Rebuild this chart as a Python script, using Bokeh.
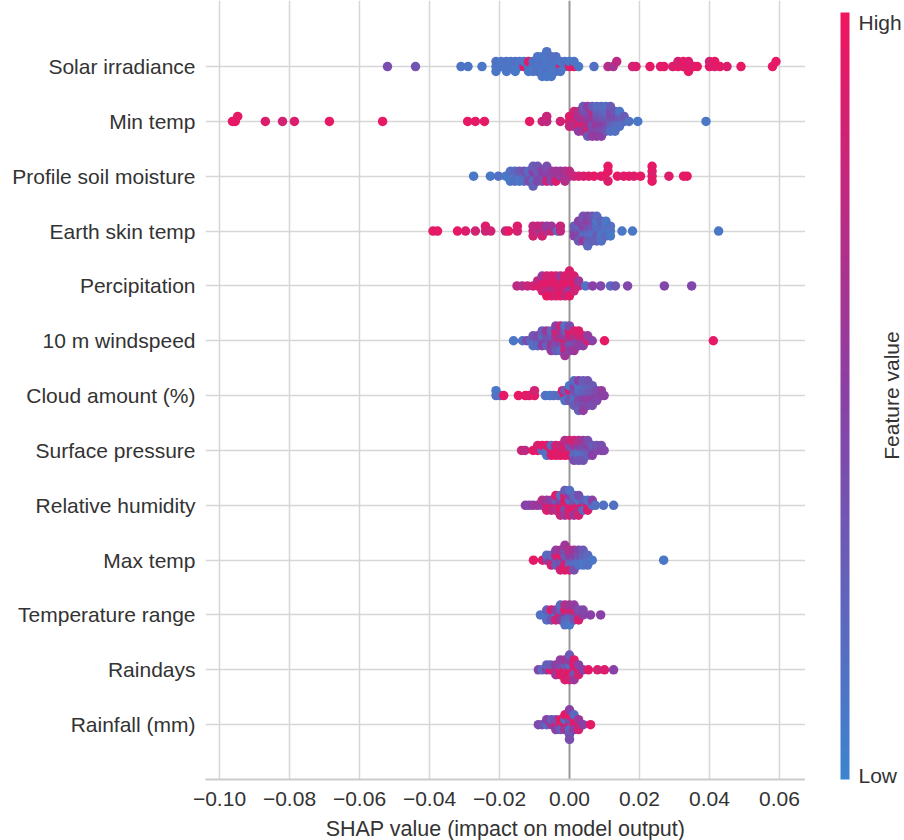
import math
from bokeh.plotting import figure
from bokeh.layouts import row
from bokeh.models import LinearColorMapper, ColorBar, FixedTicker, Span, ColumnDataSource, Range1d
from bokeh.core.properties import value
from bokeh.embed import file_html
from bokeh.resources import INLINE

# ---------------- data (SHAP value, normalised feature value) ----------------
features = ["Solar irradiance", "Min temp", "Profile soil moisture", "Earth skin temp",
            "Percipitation", "10 m windspeed", "Cloud amount (%)", "Surface pressure",
            "Relative humidity", "Max temp", "Temperature range", "Raindays", "Rainfall (mm)"]

x_ticks = [-0.10, -0.08, -0.06, -0.04, -0.02, 0.00, 0.02, 0.04, 0.06]
x_tick_labels = ["\u22120.10", "\u22120.08", "\u22120.06", "\u22120.04", "\u22120.02",
                 "0.00", "0.02", "0.04", "0.06"]

solar_irradiance = [
    (-0.052, .40), (-0.044, .35), (-0.031, .12), (-0.029, .12), (-0.025, .10),
    (-0.021, .10), (-0.021, .15), (-0.021, .10), (-0.0195, .12), (-0.0195, .10),
    (-0.018, .10), (-0.018, .15), (-0.018, .10), (-0.0168, .12), (-0.0168, .10),
    (-0.0155, .10), (-0.0155, .15), (-0.0155, .10), (-0.0143, .10), (-0.0143, .12),
    (-0.013, .95), (-0.013, .10), (-0.0117, .12), (-0.0117, .90), (-0.0117, .10),
    (-0.0104, .10), (-0.0104, .15), (-0.0104, .10),
    (-0.0091, .10), (-0.0091, .12), (-0.0091, .15), (-0.0091, .10),
    (-0.0078, .10), (-0.0078, .15), (-0.0078, .10), (-0.0078, .12), (-0.0078, .10),
    (-0.0065, .12), (-0.0065, .10), (-0.0065, .15), (-0.0065, .10), (-0.0065, .10), (-0.0065, .12),
    (-0.0052, .10), (-0.0052, .12), (-0.0052, .10), (-0.0052, .15), (-0.0052, .10),
    (-0.0039, .10), (-0.0039, .12), (-0.0039, .10), (-0.0039, .15),
    (-0.0026, .95), (-0.0026, .10), (-0.0026, .12),
    (-0.0013, .10), (-0.0013, .15), (0.0, .90), (0.0, .10), (0.0013, .95), (0.0013, .12), (0.0026, .10),
    (0.007, .15), (0.011, .70), (0.0125, .65), (0.0135, .75), (0.018, .85), (0.019, .90), (0.023, .95),
    (0.026, .90), (0.027, .95), (0.0295, .90), (0.031, .95), (0.031, .85), (0.0325, .90), (0.0325, .95),
    (0.034, .95), (0.034, .90), (0.034, .95), (0.0355, .90), (0.0365, .95), (0.040, .95), (0.040, .85),
    (0.0415, .90), (0.0415, .95), (0.043, .95), (0.045, .90), (0.049, .95), (0.058, .95), (0.059, .95),
]

min_temp = [
    (-0.0963, .95), (-0.0955, .95), (-0.0948, .95), (-0.0869, .90), (-0.082, .85), (-0.0786, .90),
    (-0.0686, .95), (-0.0534, .95), (-0.0291, .95), (-0.0269, .95), (-0.0243, .95), (-0.0114, .95),
    (-0.0078, .80), (-0.0065, .75), (-0.0065, .80), (-0.0026, .85),
    (0.0, .85), (0.0, .90), (0.0, .80),
    (0.0013, .80), (0.0013, .90), (0.0013, .70), (0.0013, .85),
    (0.0026, .80), (0.0026, .60), (0.0026, .90), (0.0026, .70), (0.0026, .50),
    (0.0039, .60), (0.0039, .70), (0.0039, .85), (0.0039, .40), (0.0039, .65), (0.0039, .30),
    (0.0052, .60), (0.0052, .50), (0.0052, .70), (0.0052, .40), (0.0052, .80), (0.0052, .55), (0.0052, .30),
    (0.0065, .50), (0.0065, .60), (0.0065, .40), (0.0065, .70), (0.0065, .45), (0.0065, .30), (0.0065, .55),
    (0.0078, .50), (0.0078, .40), (0.0078, .60), (0.0078, .30), (0.0078, .45), (0.0078, .20), (0.0078, .55),
    (0.0091, .45), (0.0091, .35), (0.0091, .50), (0.0091, .25), (0.0091, .40), (0.0091, .20), (0.0091, .50),
    (0.0104, .40), (0.0104, .30), (0.0104, .45), (0.0104, .20), (0.0104, .35), (0.0104, .15),
    (0.0117, .35), (0.0117, .40), (0.0117, .25), (0.0117, .45), (0.0117, .15), (0.0117, .30),
    (0.013, .30), (0.013, .40), (0.013, .20), (0.013, .35), (0.013, .15),
    (0.0143, .25), (0.0143, .30), (0.0143, .15), (0.0143, .10),
    (0.0156, .20), (0.0156, .30), (0.017, .15), (0.0195, .10), (0.039, .10),
]

profile_soil_moisture = [
    (-0.0274, .10), (-0.0226, .10), (-0.0203, .15), (-0.0182, .10),
    (-0.0169, .10), (-0.0169, .15), (-0.0169, .10),
    (-0.0156, .10), (-0.0156, .20), (-0.0156, .15),
    (-0.0143, .15), (-0.0143, .30), (-0.0143, .10),
    (-0.013, .20), (-0.013, .35), (-0.013, .15),
    (-0.0117, .30), (-0.0117, .20), (-0.0117, .40),
    (-0.0104, .35), (-0.0104, .50), (-0.0104, .20), (-0.0104, .30), (-0.0104, .25),
    (-0.0091, .40), (-0.0091, .30), (-0.0091, .45), (-0.0091, .35),
    (-0.0078, .45), (-0.0078, .50), (-0.0078, .40),
    (-0.0065, .50), (-0.0065, .45), (-0.0065, .85), (-0.0065, .40),
    (-0.0052, .50), (-0.0052, .55), (-0.0052, .45),
    (-0.0039, .55), (-0.0039, .60), (-0.0039, .90),
    (-0.0026, .55), (-0.0026, .60),
    (-0.0013, .60), (-0.0013, .65), (-0.0013, .70),
    (0.0, .65), (0.0, .75), (0.0013, .80), (0.0026, .85),
    (0.004, .90), (0.0055, .90), (0.007, .95), (0.009, .90), (0.010, .95),
    (0.011, .95), (0.011, .90), (0.011, .95), (0.0137, .95), (0.0155, .90), (0.017, .95),
    (0.0184, .90), (0.0203, .95),
    (0.0236, .95), (0.0236, .90), (0.0236, .95), (0.0236, .95), (0.0284, .90), (0.0326, .95), (0.0336, .95),
]

earth_skin_temp = [
    (-0.039, .95), (-0.0377, .95), (-0.032, .95), (-0.0297, .90), (-0.0269, .85),
    (-0.024, .80), (-0.024, .90), (-0.0225, .85), (-0.0183, .75), (-0.0174, .95),
    (-0.0149, .85), (-0.0149, .90),
    (-0.0104, .80), (-0.0104, .75), (-0.0104, .85),
    (-0.0091, .70), (-0.0091, .80),
    (-0.0078, .60), (-0.0078, .75), (-0.0078, .85),
    (-0.0065, .70), (-0.0065, .55),
    (-0.0052, .80), (-0.0052, .60),
    (-0.0034, .15), (-0.0026, .75), (-0.0026, .80),
    (0.0013, .40), (0.0013, .30), (0.0013, .50),
    (0.0026, .35), (0.0026, .25), (0.0026, .45), (0.0026, .50), (0.0026, .30),
    (0.0039, .30), (0.0039, .50), (0.0039, .20), (0.0039, .40), (0.0039, .60), (0.0039, .35),
    (0.0052, .25), (0.0052, .40), (0.0052, .20), (0.0052, .55), (0.0052, .30), (0.0052, .45), (0.0052, .20),
    (0.0065, .20), (0.0065, .30), (0.0065, .15), (0.0065, .40), (0.0065, .25), (0.0065, .35),
    (0.0078, .20), (0.0078, .15), (0.0078, .30), (0.0078, .10), (0.0078, .25), (0.0078, .20),
    (0.0091, .15), (0.0091, .20), (0.0091, .10), (0.0091, .25), (0.0091, .15),
    (0.0104, .10), (0.0104, .15), (0.0104, .20), (0.0104, .10),
    (0.0117, .10), (0.0117, .15), (0.0117, .10),
    (0.015, .10), (0.018, .10), (0.0426, .10),
]

percipitation = [
    (-0.015, .75), (-0.0135, .70), (-0.012, .80), (-0.0104, .85),
    (-0.0091, .90), (-0.0091, .75),
    (-0.0078, .95), (-0.0078, .90), (-0.0078, .85), (-0.0078, .60),
    (-0.0065, .90), (-0.0065, .95), (-0.0065, .80), (-0.0065, .85), (-0.0065, .95),
    (-0.0052, .95), (-0.0052, .90), (-0.0052, .70), (-0.0052, .85), (-0.0052, .95),
    (-0.0039, .90), (-0.0039, .95), (-0.0039, .80), (-0.0039, .90), (-0.0039, .85),
    (-0.0026, .95), (-0.0026, .85), (-0.0026, .90), (-0.0026, .60), (-0.0026, .95),
    (-0.0013, .90), (-0.0013, .95), (-0.0013, .85), (-0.0013, .90), (-0.0013, .80),
    (0.0, .95), (0.0, .90), (0.0, .50), (0.0, .85), (0.0, .95), (0.0, .90),
    (0.0013, .90), (0.0013, .95), (0.0013, .85), (0.0013, .90),
    (0.0026, .80), (0.0026, .60),
    (0.0046, .15), (0.0066, .50), (0.0089, .45), (0.0117, .20), (0.0131, .35),
    (0.0166, .45), (0.0271, .45), (0.0349, .45),
]

windspeed_10m = [
    (-0.016, .10), (-0.0134, .15), (-0.0122, .40), (-0.011, .20),
    (-0.0104, .35), (-0.0104, .15),
    (-0.0091, .30), (-0.0091, .45), (-0.0091, .20),
    (-0.0078, .40), (-0.0078, .20), (-0.0078, .50), (-0.0078, .30),
    (-0.0065, .50), (-0.0065, .35), (-0.0065, .25), (-0.0065, .60),
    (-0.0052, .45), (-0.0052, .30), (-0.0052, .60), (-0.0052, .20), (-0.0052, .55),
    (-0.0039, .55), (-0.0039, .70), (-0.0039, .40), (-0.0039, .85), (-0.0039, .30), (-0.0039, .50),
    (-0.0026, .90), (-0.0026, .60), (-0.0026, .45), (-0.0026, .70), (-0.0026, .20), (-0.0026, .80),
    (-0.0013, .95), (-0.0013, .50), (-0.0013, .70), (-0.0013, .30), (-0.0013, .85), (-0.0013, .15), (-0.0013, .60),
    (0.0, .60), (0.0, .80), (0.0, .35), (0.0, .90), (0.0, .50), (0.0, .40),
    (0.0013, .50), (0.0013, .70), (0.0013, .40), (0.0013, .85), (0.0013, .60),
    (0.0026, .45), (0.0026, .80), (0.0026, .55), (0.0026, .90),
    (0.0039, .60), (0.0039, .85), (0.0039, .50),
    (0.0052, .90), (0.0052, .55), (0.0065, .50), (0.010, .95), (0.0411, .95),
]

cloud_amount = [
    (-0.021, .15), (-0.021, .10), (-0.0198, .15), (-0.0188, .95), (-0.0146, .95), (-0.0126, .95),
    (-0.0115, .90), (-0.0100, .95), (-0.0100, .85), (-0.0069, .15), (-0.0056, .10), (-0.0045, .15),
    (-0.0031, .20), (-0.002, .90),
    (-0.0013, .90), (-0.0013, .30), (-0.0013, .15),
    (0.0, .20), (0.0, .85), (0.0, .35), (0.0, .10),
    (0.0013, .25), (0.0013, .40), (0.0013, .15), (0.0013, .50), (0.0013, .30), (0.0013, .20),
    (0.0026, .30), (0.0026, .20), (0.0026, .45), (0.0026, .15), (0.0026, .35), (0.0026, .50), (0.0026, .25),
    (0.0039, .35), (0.0039, .25), (0.0039, .50), (0.0039, .20), (0.0039, .40), (0.0039, .30), (0.0039, .55),
    (0.0052, .40), (0.0052, .30), (0.0052, .55), (0.0052, .25), (0.0052, .45), (0.0052, .35),
    (0.0065, .45), (0.0065, .35), (0.0065, .50), (0.0065, .30), (0.0065, .40),
    (0.0078, .50), (0.0078, .40), (0.0078, .45),
    (0.0091, .50), (0.0091, .55), (0.0099, .50),
]

surface_pressure = [
    (-0.0137, .80), (-0.0127, .75), (-0.0104, .95), (-0.0091, .90), (-0.0091, .85),
    (-0.0078, .20), (-0.0078, .95),
    (-0.0065, .15), (-0.0065, .90), (-0.0065, .10),
    (-0.0052, .95), (-0.0052, .20), (-0.0052, .90),
    (-0.0039, .90), (-0.0039, .85), (-0.0039, .95),
    (-0.0026, .95), (-0.0026, .80), (-0.0026, .90),
    (-0.0013, .85), (-0.0013, .90), (-0.0013, .95), (-0.0013, .70),
    (0.0, .70), (0.0, .40), (0.0, .90), (0.0, .80),
    (0.0013, .30), (0.0013, .60), (0.0013, .20), (0.0013, .85), (0.0013, .40),
    (0.0026, .25), (0.0026, .50), (0.0026, .15), (0.0026, .70), (0.0026, .35),
    (0.0039, .30), (0.0039, .45), (0.0039, .20), (0.0039, .60), (0.0039, .35),
    (0.0052, .35), (0.0052, .50), (0.0052, .25), (0.0052, .40),
    (0.0065, .40), (0.0065, .30), (0.0065, .50),
    (0.0078, .45), (0.0078, .35), (0.0091, .50), (0.0091, .40), (0.0099, .45),
]

relative_humidity = [
    (-0.0126, .50), (-0.0115, .45), (-0.0104, .55), (-0.0091, .60),
    (-0.0078, .50), (-0.0078, .70),
    (-0.0065, .85), (-0.0065, .60), (-0.0065, .90),
    (-0.0052, .95), (-0.0052, .50), (-0.0052, .80),
    (-0.0039, .90), (-0.0039, .30), (-0.0039, .70), (-0.0039, .95),
    (-0.0026, .90), (-0.0026, .50), (-0.0026, .95), (-0.0026, .20), (-0.0026, .80),
    (-0.0013, .85), (-0.0013, .95), (-0.0013, .40), (-0.0013, .90), (-0.0013, .60), (-0.0013, .30),
    (0.0, .95), (0.0, .20), (0.0, .90), (0.0, .50), (0.0, .85), (0.0, .15),
    (0.0013, .80), (0.0013, .30), (0.0013, .95), (0.0013, .20), (0.0013, .60),
    (0.0026, .90), (0.0026, .15), (0.0026, .70), (0.0026, .40), (0.0026, .85),
    (0.0039, .95), (0.0039, .30), (0.0039, .20),
    (0.0052, .85), (0.0052, .15), (0.0052, .90),
    (0.0065, .20), (0.0065, .50), (0.0074, .15), (0.0097, .15), (0.0126, .15),
]

max_temp = [
    (-0.0103, .95), (-0.0077, .90),
    (-0.0065, .60), (-0.0065, .20),
    (-0.0052, .50), (-0.0052, .20), (-0.0052, .85),
    (-0.0039, .40), (-0.0039, .90), (-0.0039, .30), (-0.0039, .55),
    (-0.0026, .45), (-0.0026, .95), (-0.0026, .35), (-0.0026, .60), (-0.0026, .85),
    (-0.0013, .50), (-0.0013, .30), (-0.0013, .90), (-0.0013, .40), (-0.0013, .95), (-0.0013, .60),
    (0.0, .35), (0.0, .55), (0.0, .20), (0.0, .70), (0.0, .85),
    (0.0013, .30), (0.0013, .50), (0.0013, .15), (0.0013, .60), (0.0013, .40),
    (0.0026, .20), (0.0026, .35), (0.0026, .15), (0.0026, .45),
    (0.0039, .15), (0.0039, .25), (0.0039, .10), (0.0039, .30),
    (0.0052, .10), (0.0052, .20), (0.0052, .15),
    (0.0065, .10), (0.0269, .10),
]

temperature_range = [
    (-0.0083, .15), (-0.0070, .10),
    (-0.0065, .30), (-0.0065, .15),
    (-0.0052, .20), (-0.0052, .90), (-0.0052, .35),
    (-0.0039, .15), (-0.0039, .50), (-0.0039, .85),
    (-0.0026, .90), (-0.0026, .30), (-0.0026, .60), (-0.0026, .20),
    (-0.0013, .50), (-0.0013, .95), (-0.0013, .25), (-0.0013, .70), (-0.0013, .15),
    (0.0, .30), (0.0, .80), (0.0, .20), (0.0, .60), (0.0, .10),
    (0.0013, .45), (0.0013, .85), (0.0013, .35), (0.0013, .55),
    (0.0026, .60), (0.0026, .40), (0.0026, .90),
    (0.0039, .50), (0.0039, .45), (0.006, .50), (0.0089, .50),
]

raindays = [
    (-0.0089, .45), (-0.0078, .20),
    (-0.0065, .50), (-0.0065, .25),
    (-0.0054, .90), (-0.0054, .30),
    (-0.0039, .85), (-0.0039, .50), (-0.0039, .60),
    (-0.0026, .90), (-0.0026, .40), (-0.0026, .95), (-0.0026, .55),
    (-0.0013, .95), (-0.0013, .30), (-0.0013, .85), (-0.0013, .60), (-0.0013, .90),
    (0.0, .90), (0.0, .20), (0.0, .95), (0.0, .50), (0.0, .85), (0.0, .30),
    (0.0013, .85), (0.0013, .95), (0.0013, .30), (0.0013, .90), (0.0013, .60),
    (0.0026, .90), (0.0026, .50), (0.0026, .85),
    (0.0039, .50), (0.0054, .95), (0.008, .85), (0.010, .90), (0.0126, .50),
]

rainfall = [
    (-0.0089, .45), (-0.0078, .35),
    (-0.0065, .20), (-0.0065, .50),
    (-0.0052, .60), (-0.0052, .30),
    (-0.0039, .90), (-0.0039, .40), (-0.0039, .50),
    (-0.0026, .85), (-0.0026, .95), (-0.0026, .30),
    (-0.0013, .90), (-0.0013, .15), (-0.0013, .60), (-0.0013, .95),
    (0.0, .90), (0.0, .40), (0.0, .20), (0.0, .95), (0.0, .30), (0.0, .50), (0.0, .40),
    (0.0013, .85), (0.0013, .95), (0.0013, .50), (0.0013, .20),
    (0.0026, .90), (0.0026, .60), (0.0026, .85),
    (0.0039, .50), (0.006, .95),
]

rows = [solar_irradiance, min_temp, profile_soil_moisture, earth_skin_temp, percipitation,
        windspeed_10m, cloud_amount, surface_pressure, relative_humidity, max_temp,
        temperature_range, raindays, rainfall]

colorbar_labels = ["Low", "High"]
colorbar_title = "Feature value"

# ---------------- colour map (low = blue, high = red) ----------------
anchors = [(0.0, (0x3c, 0x84, 0xcf)), (0.5, (0x8a, 0x40, 0xa6)), (1.0, (0xf0, 0x15, 0x5f))]
palette = []
for k in range(256):
    t = k / 255
    for (t0, c0), (t1, c1) in zip(anchors[:-1], anchors[1:]):
        if t0 <= t <= t1:
            u = (t - t0) / (t1 - t0)
            rgb = [round(a + (b - a) * u) for a, b in zip(c0, c1)]
            palette.append("#%02x%02x%02x" % tuple(rgb))
            break
mapper = LinearColorMapper(palette=palette, low=0, high=1)

# ---------------- beeswarm layout ----------------
BIN = 0.0013
DY = 0.09
xs, ys, fv = [], [], []
n = len(features)
for i, pts in enumerate(rows):
    pos = n - 1 - i
    counts = {}
    for v, f in pts:
        b = round(v / BIN)
        k = counts.get(b, 0)
        counts[b] = k + 1
        off = math.ceil(k / 2) * (1 if k % 2 == 1 else -1) * DY
        xs.append(v)
        ys.append(pos + off)
        fv.append(f)
src = ColumnDataSource(dict(x=xs, y=ys, f=fv))

FONT = "Liberation Sans"
TXT = "#333333"

p = figure(frame_width=600, frame_height=779, x_range=(-0.104, 0.067429), y_range=(-1.0, 13.204),
           output_backend="svg", toolbar_location=None, title=None,
           min_border_left=205, min_border_right=0, min_border_top=0, min_border_bottom=61)
p.outline_line_color = None

p.xgrid.ticker = FixedTicker(ticks=[t for t in x_ticks if t != 0])
p.xgrid.grid_line_color = "#d6d6d6"
p.xgrid.grid_line_width = 1.5
p.ygrid.ticker = FixedTicker(ticks=list(range(n)))
p.ygrid.grid_line_color = "#d6d6d6"
p.ygrid.grid_line_width = 1.5

p.add_layout(Span(location=0, dimension="height", line_color="#999999", line_width=2, level="underlay"))

xa = p.xaxis[0]
xa.ticker = FixedTicker(ticks=x_ticks)
xa.major_label_overrides = dict(zip(x_ticks, x_tick_labels))
xa.axis_label = "SHAP value (impact on model output)"
xa.axis_label_text_font = FONT
xa.axis_label_text_font_size = "21.5px"
xa.axis_label_text_font_style = "normal"
xa.axis_label_text_color = TXT
xa.axis_label_standoff = 8
xa.major_label_text_font = FONT
xa.major_label_text_font_size = "21px"
xa.major_label_text_color = TXT
xa.major_label_standoff = 6
xa.major_tick_line_color = None
xa.minor_tick_line_color = None
xa.axis_line_color = "#cccccc"
xa.axis_line_width = 2

ya = p.yaxis[0]
ya.ticker = FixedTicker(ticks=list(range(n)))
ya.major_label_overrides = {n - 1 - i: name for i, name in enumerate(features)}
ya.major_label_text_font = FONT
ya.major_label_text_font_size = "21px"
ya.major_label_text_color = TXT
ya.major_label_standoff = 4
ya.major_tick_line_color = None
ya.minor_tick_line_color = None
ya.axis_line_color = None

p.scatter("x", "y", source=src, size=9.5, line_color=None,
          fill_color={"field": "f", "transform": mapper})

# ---------------- colour bar panel ----------------
cbf = figure(frame_width=99, frame_height=779, x_range=Range1d(805, 904), y_range=Range1d(61, 840),
             output_backend="svg", toolbar_location=None, title=None,
             x_axis_location=None, y_axis_location=None,
             min_border_left=0, min_border_right=0, min_border_top=0, min_border_bottom=61)
cbf.outline_line_color = None
cbf.grid.visible = False

cb_ticks = [0.005, 0.987]
cb = ColorBar(color_mapper=mapper, location=(35, 0), width=9, height=767, padding=0, margin=0,
              ticker=FixedTicker(ticks=cb_ticks),
              major_label_overrides=dict(zip(cb_ticks, colorbar_labels)),
              major_label_text_font=FONT, major_label_text_font_size="21px",
              major_label_text_color=TXT, label_standoff=9,
              major_tick_line_color=None, minor_tick_line_color=None, bar_line_color=None,
              border_line_color=None, background_fill_color=None)
cbf.add_layout(cb)

cbf.text(x=[891], y=[445], text=[colorbar_title], angle=math.pi / 2, text_align="center",
         text_baseline="middle", text_font=value(FONT), text_font_size="21px", text_color=TXT)

layout = row(p, cbf)
open("out.html", "w").write(file_html(layout, INLINE))
